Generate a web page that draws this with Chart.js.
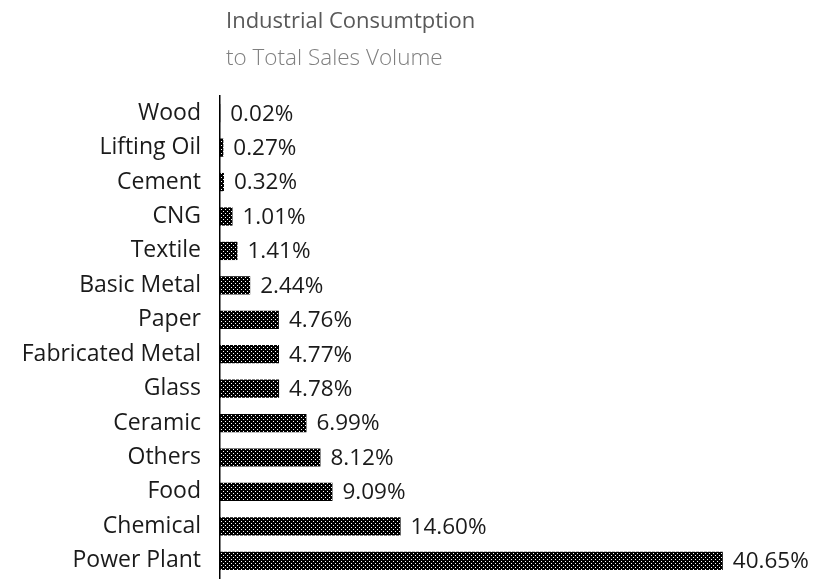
<!DOCTYPE html>
<html>
<head>
<meta charset="utf-8">
<script src="https://cdn.jsdelivr.net/npm/chart.js@4.4.1/dist/chart.umd.min.js"></script>
<style>
  html, body { margin: 0; padding: 0; background: #fff; }
  canvas { display: block; }
</style>
</head>
<body>
<canvas id="industryChart" width="820" height="580"></canvas>
<script>
// DATA
const categories = ['Wood', 'Lifting Oil', 'Cement', 'CNG', 'Textile', 'Basic Metal', 'Paper',
  'Fabricated Metal', 'Glass', 'Ceramic', 'Others', 'Food', 'Chemical', 'Power Plant'];
const shares = [0.02, 0.27, 0.32, 1.01, 1.41, 2.44, 4.76, 4.77, 4.78, 6.99, 8.12, 9.09, 14.60, 40.65];
const titleText = 'Industrial Consumtption';
const subtitleText = 'to Total Sales Volume';

// dotted fill pattern (black with white dots)
const makeDots = () => {
  const c = document.createElement('canvas');
  c.width = 4; c.height = 4;
  const g = c.getContext('2d');
  g.fillStyle = '#000';
  g.fillRect(0, 0, 4, 4);
  g.fillStyle = '#fff';
  g.fillRect(1, 1, 1, 1);
  g.fillRect(3, 3, 1, 1);
  return g.createPattern(c, 'repeat');
};

// title, subtitle and value labels
const textPlugin = {
  id: 'textPlugin',
  afterDraw(chart) {
    const ctx = chart.ctx;
    ctx.save();
    ctx.textAlign = 'left';
    ctx.textBaseline = 'alphabetic';
    ctx.fillStyle = '#595959';
    ctx.font = '22px "Open Sans"';
    ctx.fillText(titleText, 226, 28);
    ctx.fillStyle = '#7f7f7f';
    ctx.font = '300 22.5px "Open Sans"';
    ctx.fillText(subtitleText, 226, 65);

    ctx.fillStyle = '#1a1a1a';
    ctx.font = '22.5px "Open Sans"';
    ctx.textBaseline = 'middle';
    chart.getDatasetMeta(0).data.forEach((bar, i) => {
      ctx.fillText(shares[i].toFixed(2) + '%', bar.x + 10, bar.y + 1);
    });
    ctx.restore();
  }
};

new Chart(document.getElementById('industryChart'), {
  type: 'bar',
  data: {
    labels: categories,
    datasets: [{
      data: shares,
      backgroundColor: makeDots(),
      borderWidth: 0,
      barPercentage: 0.53,
      categoryPercentage: 1
    }]
  },
  options: {
    indexAxis: 'y',
    responsive: false,
    animation: false,
    layout: { padding: { top: 96, right: 10, bottom: 2, left: 0 } },
    plugins: { legend: { display: false }, tooltip: { enabled: false }, title: { display: false } },
    scales: {
      x: { display: false, min: 0, max: 47.7 },
      y: {
        afterFit: (scale) => {
          scale.width = 220;
          scale.paddingTop = 0;
          scale.paddingBottom = 0;
        },
        grid: { display: false, drawTicks: false },
        border: { display: true, color: '#000', width: 1.5 },
        ticks: {
          autoSkip: false,
          color: '#1a1a1a',
          padding: 19,
          font: { family: 'Open Sans', size: 23 }
        }
      }
    }
  },
  plugins: [textPlugin]
});
</script>
</body>
</html>
